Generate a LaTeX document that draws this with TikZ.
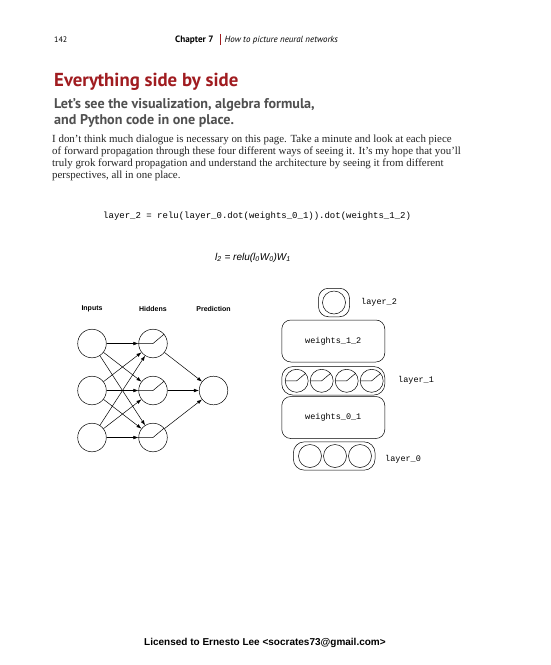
\documentclass[tikz,border=0pt]{standalone}
\usepackage{fontspec}
\setmainfont{Liberation Serif}
\setsansfont{Liberation Sans}
\setmonofont{Liberation Mono}
\newfontfamily\headfont{PT Sans}
\usetikzlibrary{arrows.meta}
\definecolor{titlered}{RGB}{160,28,32}
\definecolor{subgray}{RGB}{80,80,80}
\definecolor{bodyink}{RGB}{35,35,35}

\begin{document}
\begin{tikzpicture}[x=1pt,y=-1pt,>={Latex[length=5pt,width=3.6pt]},
   txt/.style={inner sep=0pt,anchor=base west},
   neuron/.style={draw,circle,inner sep=0pt,minimum size=28.6pt,line width=.5pt},
   unit/.style={draw,circle,inner sep=0pt,minimum size=23pt,line width=.5pt},
   layerbox/.style={draw,inner sep=0pt,line width=.5pt},
   codefont/.style={font=\ttfamily\fontsize{8.5}{10}\selectfont}]
   % Page size
   \useasboundingbox (0,0) rectangle (550,665);
   % Running head
   \node [txt,font=\headfont\fontsize{8}{9}\selectfont] (page) at (54,42.5) {142};
   \node [txt,font=\headfont\bfseries\fontsize{9.2}{10}\selectfont] (chap) at (175,42.5) {Chapter 7};
   \node [txt,font=\headfont\itshape\fontsize{8.9}{10}\selectfont] (runtitle) at (224.5,42.5) {How to picture neural networks};
   \draw [titlered,line width=1.2pt] (220.5,34) -- (220.5,44.5);
   % Section heading
   \node [txt,font=\headfont\bfseries\fontsize{18.8}{20}\selectfont,text=titlered] (head) at (54,86.5) {Everything side by side};
   \node [txt,font=\headfont\bfseries\fontsize{14.1}{16}\selectfont,text=subgray] (sub1) at (54,108) {Let’s see the visualization, algebra formula,};
   \node [txt,font=\headfont\bfseries\fontsize{14.1}{16}\selectfont,text=subgray] (sub2) at (54,124) {and Python code in one place.};
   % Body text
   \begin{scope}[every node/.append style={txt,font=\fontsize{10.9}{12}\selectfont,text=bodyink}]
    \node (body1) at (52,142.5) {I don’t think much dialogue is necessary on this page. Take a minute and look at each piece};
    \node (body2) at (52,154.5) {of forward propagation through these four different ways of seeing it. It’s my hope that you’ll};
    \node (body3) at (52,166.5) {truly grok forward propagation and understand the architecture by seeing it from different};
    \node (body4) at (52,178.5) {perspectives, all in one place.};
   \end{scope}
   % Python code and formula
   \node [txt,font=\ttfamily\fontsize{9}{10}\selectfont] (code) at (103,218) {layer\_2 = relu(layer\_0.dot(weights\_0\_1)).dot(weights\_1\_2)};
   \node [txt,font=\sffamily\itshape\fontsize{10}{11}\selectfont] (formula) at (215,260) {l\textsubscript{2} = relu(l\textsubscript{0}W\textsubscript{0})W\textsubscript{1}};
   % Network picture
   \begin{scope}[every node/.append style={font=\sffamily\bfseries\fontsize{7}{8}\selectfont}]
    \node [inner sep=0pt] (inlabel) at (92,308.5) {Inputs};
    \node [inner sep=0pt] (hidlabel) at (153,308.5) {Hiddens};
    \node [inner sep=0pt] (predlabel) at (213.5,308.5) {Prediction};
   \end{scope}
   \foreach \i/\y in {1/343.5,2/390.5,3/437.5} {
     \node [neuron] (i\i) at (92,\y) {};
     \node [neuron] (h\i) at (153,\y) {};
     \draw [line width=.5pt] (h\i.west) -- (h\i.center) -- (h\i.40);
   }
   \node [neuron] (p) at (213.5,390.5) {};
   \foreach \i in {1,2,3}
     \foreach \j in {1,2,3}
       \draw [->,line width=.5pt] (i\i) -- (h\j);
   \foreach \j in {1,2,3}
     \draw [->,line width=.5pt] (h\j) -- (p);
   % Layer stack
   \node [layerbox,rounded corners=10pt,minimum width=31pt,minimum height=28.5pt] (l2box) at (334,302.5) {};
   \node [unit] (l2) at (334,302.5) {};
   \node [layerbox,rounded corners=9pt,minimum width=103pt,minimum height=42pt,codefont] (w12) at (333.3,341) {weights\_1\_2};
   \node [layerbox,rounded corners=11pt,minimum width=103pt,minimum height=28.5pt] (l1box) at (333.3,380.8) {};
   \foreach \k/\x in {1/296.7,2/321.7,3/346.7,4/371.7} {
     \node [unit] (a\k) at (\x,380.8) {};
     \draw [line width=.5pt] (a\k.west) -- (a\k.center) -- (a\k.40);
   }
   \node [layerbox,rounded corners=9pt,minimum width=103pt,minimum height=42pt,codefont] (w01) at (333.3,417.5) {weights\_0\_1};
   \node [layerbox,rounded corners=11pt,minimum width=81.7pt,minimum height=28.3pt] (l0box) at (334.2,456) {};
   \foreach \k/\x in {1/310,2/335,3/360}
     \node [unit] (b\k) at (\x,456) {};
   % Layer names
   \node [txt,codefont] (l2name) at (361,304) {layer\_2};
   \node [txt,codefont] (l1name) at (398,382) {layer\_1};
   \node [txt,codefont] (l0name) at (385,461.5) {layer\_0};
   % Footer
   \node [txt,font=\sffamily\bfseries\fontsize{10}{11}\selectfont] (lic) at (144,645.5) {Licensed to Ernesto Lee <socrates73@gmail.com>};
\end{tikzpicture}
\end{document}
